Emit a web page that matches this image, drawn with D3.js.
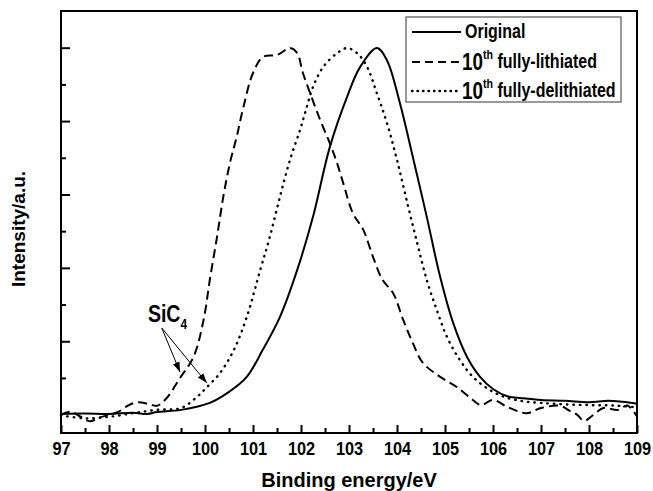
<!DOCTYPE html>
<html>
<head>
<meta charset="utf-8">
<script src="https://d3js.org/d3.v7.min.js"></script>
<style>
body { margin: 0; background: #fff; font-family: "Liberation Sans", Arial, sans-serif; }
</style>
</head>
<body>
<script>
// [binding energy (eV), intensity (a.u.)]
var original = [[97.0,0.52],[97.5,0.53],[98.0,0.52],[98.5,0.55],[98.8,0.52],[99.0,0.57],[99.5,0.63],
  [100.1,0.82],[100.5,1.12],[100.87,1.53],[101.2,2.26],[101.56,3.16],[101.92,4.44],[102.25,5.89],
  [102.6,7.79],[102.96,9.16],[103.23,9.97],[103.58,10.49],[103.79,10.16],[104.06,8.99],[104.33,7.52],
  [104.62,5.89],[104.9,4.25],[105.17,3.0],[105.46,2.07],[105.73,1.53],[106.0,1.2],[106.3,1.0],
  [106.6,0.95],[107.0,0.9],[107.5,0.88],[108.0,0.84],[108.4,0.88],[108.7,0.85],[109.0,0.8]];

var lithiated = [[97.0,0.5],[97.2,0.58],[97.4,0.45],[97.6,0.32],[97.8,0.42],[98.0,0.5],[98.2,0.58],
  [98.4,0.75],[98.6,0.84],[98.85,0.78],[99.0,0.74],[99.2,0.95],[99.48,1.5],[99.76,2.07],[99.97,3.08],
  [100.1,4.17],[100.25,5.34],[100.38,6.43],[100.52,7.36],[100.66,8.07],[100.8,8.88],[101.0,9.81],
  [101.21,10.25],[101.5,10.3],[101.77,10.49],[101.92,10.35],[102.04,9.81],[102.19,9.26],[102.4,8.53],
  [102.6,7.9],[102.75,7.36],[102.88,6.81],[103.08,5.99],[103.3,5.53],[103.5,4.8],[103.7,4.17],
  [103.92,3.81],[104.13,3.08],[104.33,2.45],[104.54,1.91],[104.9,1.53],[105.25,1.25],[105.58,0.9],
  [105.75,0.76],[106.0,0.9],[106.3,0.71],[106.7,0.54],[107.0,0.68],[107.4,0.74],[107.6,0.6],
  [107.75,0.5],[107.9,0.33],[108.05,0.45],[108.3,0.68],[108.6,0.63],[108.8,0.75],[109.0,0.45]];

var delithiated = [[97.0,0.48],[97.5,0.4],[98.0,0.44],[98.5,0.54],[99.0,0.63],[99.5,0.68],[99.83,0.98],
  [100.04,1.25],[100.31,1.63],[100.6,2.26],[100.87,3.16],[101.15,4.44],[101.35,5.34],[101.56,6.43],
  [101.77,7.44],[101.98,8.26],[102.12,8.88],[102.25,9.43],[102.46,9.97],[102.75,10.35],[102.96,10.49],
  [103.17,10.35],[103.38,9.97],[103.58,9.26],[103.79,8.45],[104.0,7.44],[104.2,6.35],[104.42,5.18],
  [104.62,4.17],[104.83,3.35],[105.04,2.62],[105.31,1.99],[105.58,1.53],[105.9,1.2],[106.2,1.0],
  [106.6,0.87],[107.0,0.82],[107.5,0.78],[108.0,0.76],[108.5,0.75],[109.0,0.7]];

var xMajor = [97,98,99,100,101,102,103,104,105,106,107,108,109];
var xMinor = [97.5,98.5,99.5,100.5,101.5,102.5,103.5,104.5,105.5,106.5,107.5,108.5];
var yMajor = [2.5,4.5,6.5,8.5,10.5];
var yMinor = [1.5,3.5,5.5,7.5,9.5];

// annotation: label position and the two arrow tips
var sicLabel = [98.81, 3.02];
var sicFrom = [99.1, 2.86];
var sicTips = [[99.48, 1.66], [100.04, 1.36]];

var width = 653, height = 491;
var margin = {top: 11, right: 16, bottom: 58, left: 61};

var svg = d3.select("body").append("svg")
  .attr("width", width)
  .attr("height", height);

svg.append("rect").attr("width", width).attr("height", height).attr("fill", "#fff");

var x = d3.scaleLinear().domain([97, 109]).range([margin.left, width - margin.right]);
var y = d3.scaleLinear().domain([0, 11.5]).range([height - margin.bottom, margin.top]);

var line = d3.line()
  .x(function(d) { return x(d[0]); })
  .y(function(d) { return y(d[1]); })
  .curve(d3.curveCatmullRom.alpha(0.5));

// curves
svg.append("path").datum(original)
  .attr("d", line).attr("fill", "none").attr("stroke", "#000").attr("stroke-width", 2);
svg.append("path").datum(lithiated)
  .attr("d", line).attr("fill", "none").attr("stroke", "#000").attr("stroke-width", 2)
  .attr("stroke-dasharray", "9 5");
svg.append("path").datum(delithiated)
  .attr("d", line).attr("fill", "none").attr("stroke", "#000").attr("stroke-width", 2.4)
  .attr("stroke-linecap", "round").attr("stroke-dasharray", "0.5 6");

// ticks (inside)
var bottomY = height - margin.bottom;
svg.append("g").attr("transform", "translate(0," + bottomY + ")")
  .call(d3.axisBottom(x).tickValues(xMinor).tickSize(-5).tickFormat(""))
  .call(function(g) { g.select(".domain").remove(); });

var xAxis = svg.append("g").attr("transform", "translate(0," + bottomY + ")")
  .call(d3.axisBottom(x).tickValues(xMajor).tickSize(-8).tickFormat(d3.format("d")));
xAxis.select(".domain").remove();
xAxis.selectAll("text")
  .attr("y", 22).attr("dy", 0)
  .attr("transform", "scale(0.86,1)")
  .style("font-family", "'Liberation Sans', Arial, sans-serif")
  .style("font-size", "19px").style("font-weight", "bold").attr("fill", "#000");

svg.append("g").attr("transform", "translate(" + margin.left + ",0)")
  .call(d3.axisLeft(y).tickValues(yMajor).tickSize(-9).tickFormat(""))
  .call(function(g) { g.select(".domain").remove(); });
svg.append("g").attr("transform", "translate(" + margin.left + ",0)")
  .call(d3.axisLeft(y).tickValues(yMinor).tickSize(-5).tickFormat(""))
  .call(function(g) { g.select(".domain").remove(); });

svg.selectAll(".tick line").attr("stroke", "#000").attr("stroke-width", 2);

// frame
svg.append("rect")
  .attr("x", margin.left).attr("y", margin.top)
  .attr("width", width - margin.left - margin.right)
  .attr("height", height - margin.top - margin.bottom)
  .attr("fill", "none").attr("stroke", "#000").attr("stroke-width", 2);

// axis titles
svg.append("text")
  .attr("x", (margin.left + width - margin.right) / 2).attr("y", 487)
  .attr("text-anchor", "middle")
  .style("font-size", "20px").style("font-weight", "bold")
  .text("Binding energy/eV");

svg.append("text")
  .attr("transform", "translate(25,229) rotate(-90)")
  .attr("text-anchor", "middle")
  .style("font-size", "19px").style("font-weight", "bold")
  .text("Intensity/a.u.");

// legend
var legend = svg.append("g");
legend.append("rect")
  .attr("x", 406).attr("y", 17).attr("width", 215).attr("height", 85)
  .attr("fill", "#fff").attr("stroke", "#555").attr("stroke-width", 1.2);

var rows = [
  {y: 32, dash: null, w: 2, cap: "butt", sup: false, name: "Original", tx: 465},
  {y: 62, dash: "8 5", w: 2, cap: "butt", sup: true, name: "fully-lithiated", tx: 462},
  {y: 91, dash: "0.5 5", w: 2.4, cap: "round", sup: true, name: "fully-delithiated", tx: 462}
];
rows.forEach(function(r) {
  var l = legend.append("line")
    .attr("x1", 412).attr("x2", 461).attr("y1", r.y).attr("y2", r.y)
    .attr("stroke", "#000").attr("stroke-width", r.w).attr("stroke-linecap", r.cap);
  if (r.dash) l.attr("stroke-dasharray", r.dash);
  var t = legend.append("g")
    .attr("transform", "translate(" + r.tx + "," + (r.y + 6) + ") scale(0.82,1)")
    .append("text").style("font-weight", "bold");
  if (r.sup) {
    t.append("tspan").style("font-size", "23px").attr("dy", 2).text("10");
    t.append("tspan").style("font-size", "13px").attr("dy", -11).text("th");
    t.append("tspan").style("font-size", "19.5px").attr("dy", 9).text("\u00a0fully-" + r.name.slice(6));
  } else {
    t.style("font-size", "19.5px").text(r.name);
  }
});

// SiC4 annotation
var ann = svg.append("g")
  .attr("transform", "translate(" + x(sicLabel[0]) + "," + y(sicLabel[1]) + ") scale(0.85,1)")
  .append("text").style("font-weight", "bold");
ann.append("tspan").style("font-size", "23px").text("SiC");
ann.append("tspan").style("font-size", "14px").attr("dy", 7).text("4");

svg.append("defs").append("marker")
  .attr("id", "arrow").attr("viewBox", "0 0 10 10")
  .attr("refX", 10).attr("refY", 5)
  .attr("markerWidth", 10).attr("markerHeight", 10)
  .attr("markerUnits", "userSpaceOnUse")
  .attr("orient", "auto")
  .append("path").attr("d", "M0,1.5L10,5L0,8.5Z").attr("fill", "#000");

sicTips.forEach(function(p) {
  svg.append("line")
    .attr("x1", x(sicFrom[0])).attr("y1", y(sicFrom[1]))
    .attr("x2", x(p[0])).attr("y2", y(p[1]))
    .attr("stroke", "#000").attr("stroke-width", 1)
    .attr("marker-end", "url(#arrow)");
});
</script>
</body>
</html>
